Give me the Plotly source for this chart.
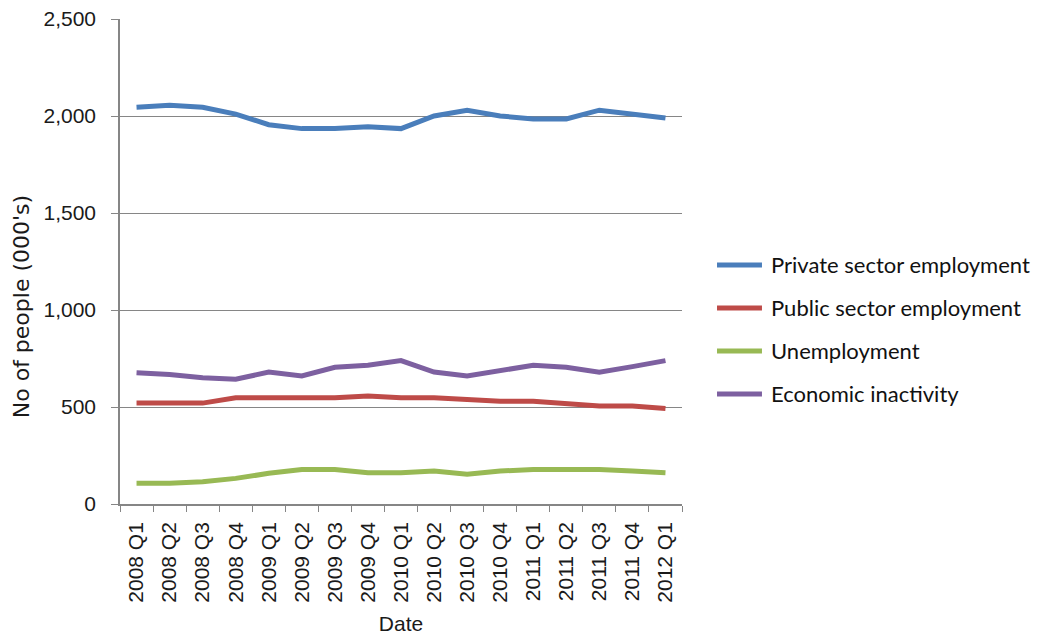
import plotly.graph_objects as go

quarters = ["2008 Q1", "2008 Q2", "2008 Q3", "2008 Q4",
            "2009 Q1", "2009 Q2", "2009 Q3", "2009 Q4",
            "2010 Q1", "2010 Q2", "2010 Q3", "2010 Q4",
            "2011 Q1", "2011 Q2", "2011 Q3", "2011 Q4",
            "2012 Q1"]

private_sector = [2045, 2055, 2045, 2010, 1955, 1935, 1935, 1945, 1935,
                  2000, 2030, 2000, 1985, 1985, 2030, 2010, 1990]
public_sector = [520, 520, 520, 548, 548, 548, 548, 557, 548,
                 548, 540, 530, 530, 515, 505, 505, 492]
unemployment = [107, 107, 115, 132, 158, 178, 178, 161, 161,
                170, 153, 170, 178, 178, 178, 170, 161]
inactivity = [677, 668, 651, 643, 680, 660, 705, 715, 739,
              680, 660, 690, 715, 705, 679, 708, 739]

series_names = ["Private sector employment", "Public sector employment",
                "Unemployment", "Economic inactivity"]
series_values = [private_sector, public_sector, unemployment, inactivity]
series_colors = ["#4A7EBB", "#BE4B48", "#98B954", "#7D60A0"]

fig = go.Figure()
for name, values, color in zip(series_names, series_values, series_colors):
    fig.add_trace(go.Scatter(
        x=quarters, y=values, name=name, mode="lines",
        line=dict(color=color, width=5),
        showlegend=False,
    ))

# Legend drawn on the right: a short coloured stroke plus a label per series
legend_x0, legend_x1, legend_text_x = 1.0623, 1.1423, 1.1548
legend_y_top, legend_step = 0.493, 0.0887
for i, (name, color) in enumerate(zip(series_names, series_colors)):
    yy = legend_y_top - i * legend_step
    fig.add_shape(type="line", xref="paper", yref="paper",
                  x0=legend_x0, x1=legend_x1, y0=yy, y1=yy,
                  line=dict(color=color, width=5))
    fig.add_annotation(xref="paper", yref="paper", x=legend_text_x, y=yy,
                       text=name, showarrow=False, xanchor="left", yanchor="middle",
                       font=dict(family="Lato, Liberation Sans, sans-serif", size=22, color="#111111"))

# Y-axis title, placed a little below the middle of the axis
fig.add_annotation(xref="paper", yref="paper", x=-0.175, y=0.407,
                   text="No of people (000's)", showarrow=False, textangle=-90,
                   xanchor="center", yanchor="middle",
                   font=dict(family="DejaVu Sans, sans-serif", size=22, color="#1a1a1a"))

grey = "#868686"
tick_font = dict(family="Liberation Sans, Arial, sans-serif", size=21, color="#1a1a1a")

fig.update_layout(
    width=1039, height=637,
    margin=dict(l=120, r=357, t=19, b=133),
    paper_bgcolor="white", plot_bgcolor="white",
    showlegend=False,
    xaxis=dict(
        type="category",
        automargin=False,
        tickangle=-90,
        ticks="outside", ticklen=6, tickcolor=grey,
        tickson="boundaries",
        ticklabelstandoff=8,
        showline=True, linecolor=grey, linewidth=1.5,
        showgrid=False,
        tickfont=tick_font,
        title=dict(text="Date", font=dict(family="Liberation Sans, sans-serif", size=21, color="#1a1a1a"), standoff=15),
        range=[-0.5, len(quarters) - 0.5],
    ),
    yaxis=dict(
        range=[0, 2500], dtick=500, tickformat=",",
        automargin=False,
        ticks="outside", ticklen=7, tickcolor=grey,
        ticklabelstandoff=11,
        showline=True, linecolor=grey, linewidth=1.5,
        showgrid=True, gridcolor=grey, gridwidth=1,
        zeroline=False,
        tickfont=tick_font,
    ),
)

fig.write_html("out.html")
